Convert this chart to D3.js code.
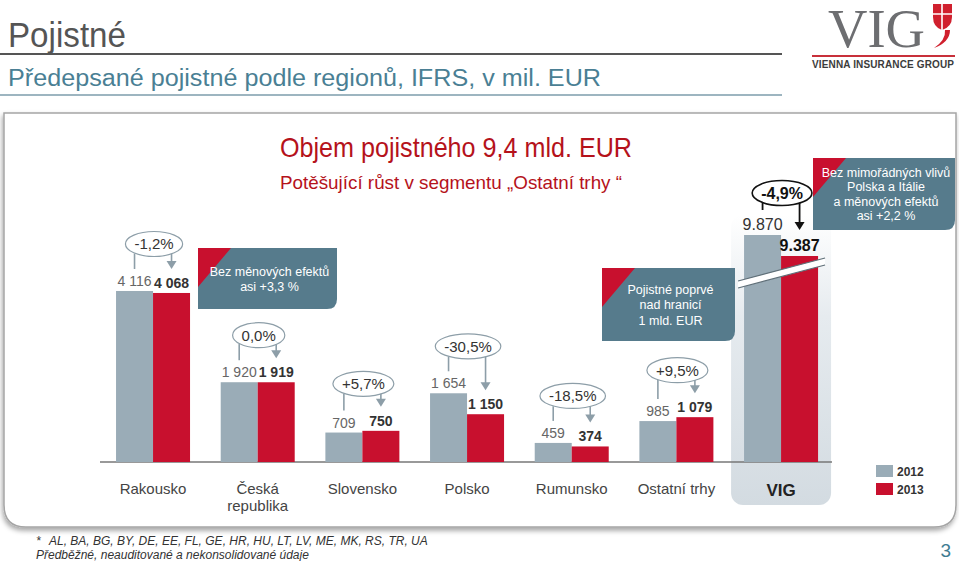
<!DOCTYPE html>
<html>
<head>
<meta charset="utf-8">
<script src="https://cdn.jsdelivr.net/npm/d3@7"></script>
<style>
  body { margin: 0; background: #fff; }
  svg { display: block; font-family: "Liberation Sans", Arial, sans-serif; }
</style>
</head>
<body>
<svg id="chart" width="959" height="561"></svg>
<script>
// chart data
var regions = ["Rakousko", "Česká republika", "Slovensko", "Polsko", "Rumunsko", "Ostatní trhy"];
var years = ["2012", "2013"];
var premium2012 = [4116, 1920, 709, 1654, 459, 985];
var premium2013 = [4068, 1919, 750, 1150, 374, 1079];
var changes = ["-1,2%", "0,0%", "+5,7%", "-30,5%", "-18,5%", "+9,5%"];
var vigTotal = [9870, 9387];
var vigChange = "-4,9%";

var grey = "#9aacb7", red = "#c8102e", teal = "#567b8c";

var svg = d3.select('#chart');

// ---- header ----
svg.append('text').attr('x', 8).attr('y', 47)
  .attr('textLength', 118).attr('lengthAdjust', 'spacingAndGlyphs')
  .style('font-size', '35px').style('fill', '#555').text('Pojistné');
svg.append('line').attr('x1', 0).attr('x2', 782).attr('y1', 54).attr('y2', 54)
  .style('stroke', '#555').style('stroke-width', 2);
svg.append('text').attr('x', 8).attr('y', 86)
  .attr('textLength', 593).attr('lengthAdjust', 'spacingAndGlyphs')
  .style('font-size', '23px').style('fill', '#4a7f94')
  .text('Předepsané pojistné podle regionů, IFRS, v mil. EUR');
svg.append('line').attr('x1', 0).attr('x2', 782).attr('y1', 95).attr('y2', 95)
  .style('stroke', '#7d9cab').style('stroke-width', 1.5);

// logo
var logo = svg.append('g');
logo.append('text').attr('x', 828).attr('y', 47)
  .attr('textLength', 97).attr('lengthAdjust', 'spacingAndGlyphs')
  .style('font-family', '"Liberation Serif", "DejaVu Serif", serif')
  .style('font-size', '54px').style('fill', '#6d6e71').text('VIG');
logo.append('path').attr('d', 'M933,4 H952 V17 Q952,27 942,30 Q933,27 933,17 Z').style('fill', '#d0202e');
logo.append('path').attr('d', 'M942,4 V30 M933,14 H952').style('stroke', '#fff').style('stroke-width', 1.6);
logo.append('path').attr('d', 'M945,30 Q946,40 934,48 Q950,42 950,30 Z').style('fill', '#d0202e');
logo.append('line').attr('x1', 812).attr('x2', 955).attr('y1', 56).attr('y2', 56)
  .style('stroke', '#c8303a').style('stroke-width', 2);
logo.append('text').attr('x', 883).attr('y', 68).attr('text-anchor', 'middle')
  .style('font-size', '10px').style('font-weight', 'bold').style('fill', '#3c3c3c')
  .attr('textLength', 142).text('VIENNA INSURANCE GROUP');

// ---- frame ----
var defs = svg.append('defs');
var shadow = defs.append('filter').attr('id', 'shadow').attr('x', '-5%').attr('y', '-5%').attr('width', '110%').attr('height', '115%');
shadow.append('feDropShadow').attr('dx', -1).attr('dy', 3).attr('stdDeviation', 2.5)
  .attr('flood-color', '#000').attr('flood-opacity', 0.35);
var grad = defs.append('linearGradient').attr('id', 'vigPanel').attr('x1', 0).attr('x2', 0).attr('y1', 0).attr('y2', 1);
grad.append('stop').attr('offset', '0%').attr('stop-color', '#fff');
grad.append('stop').attr('offset', '35%').attr('stop-color', '#e6ebef');
grad.append('stop').attr('offset', '100%').attr('stop-color', '#d3dbe1');

svg.append('path')
  .attr('d', 'M4,113 H956 V505 Q956,527 934,527 H26 Q4,527 4,505 Z')
  .style('fill', '#fff').style('stroke', '#a5a5a5').style('stroke-width', 1.5)
  .attr('filter', 'url(#shadow)');

svg.append('text').attr('x', 280).attr('y', 157)
  .attr('textLength', 352).attr('lengthAdjust', 'spacingAndGlyphs')
  .style('font-size', '28px').style('fill', '#b5121b').text('Objem pojistného 9,4 mld. EUR');
svg.append('text').attr('x', 280).attr('y', 189)
  .attr('textLength', 342).attr('lengthAdjust', 'spacingAndGlyphs')
  .style('font-size', '19px').style('fill', '#b5121b').text('Potěšující růst v segmentu „Ostatní trhy “');

// ---- scales ----
var groups = regions.concat(['VIG']);
var x = d3.scaleBand().domain(groups).range([100.7, 833.4]);
var xIn = d3.scaleBand().domain(years).range([-37, 37]);
var y = d3.scaleLinear().domain([0, 1000]).range([462, 420.45]);
var yVig = d3.scaleLinear().domain([4650, 9870]).range([462, 235]); // broken axis

var cx = function(g){ return x(g) + x.bandwidth() / 2; };

// VIG panel behind
svg.append('rect').attr('x', cx('VIG') - 50).attr('y', 215).attr('width', 100).attr('height', 290)
  .attr('rx', 12).style('fill', 'url(#vigPanel)');

var rows = regions.map(function(r, i){
  return { name: r, v: [premium2012[i], premium2013[i]], change: changes[i], scale: y, vig: false };
});
rows.push({ name: 'VIG', v: vigTotal, change: vigChange, scale: yVig, vig: true });

var fmt = function(v, vig){
  return vig ? d3.format(',')(v).replace(',', '.') : d3.format(',')(v).replace(',', ' ');
};

// baseline
svg.append('line').attr('x1', 100).attr('x2', 832).attr('y1', 462).attr('y2', 462)
  .style('stroke', '#777').style('stroke-width', 1.5);

var g = svg.selectAll('g.grp').data(rows).enter().append('g').attr('class', 'grp');

g.selectAll('rect.bar')
  .data(function(d){ return years.map(function(yr, k){ return { d: d, k: k, yr: yr, v: d.v[k] }; }); })
  .enter().append('rect').attr('class', 'bar')
  .attr('x', function(b){ return cx(b.d.name) + xIn(b.yr); })
  .attr('width', xIn.bandwidth())
  .attr('y', function(b){ return b.d.scale(b.v); })
  .attr('height', function(b){ return 462 - b.d.scale(b.v); })
  .style('fill', function(b){ return b.k === 0 ? grey : red; });

// value labels
g.selectAll('text.val')
  .data(function(d){ return years.map(function(yr, k){ return { d: d, k: k, yr: yr, v: d.v[k] }; }); })
  .enter().append('text').attr('class', 'val')
  .attr('x', function(b){ return cx(b.d.name) + xIn(b.yr) + xIn.bandwidth() / 2; })
  .attr('y', function(b){ return b.d.scale(b.v) - 5; })
  .attr('text-anchor', 'middle')
  .style('font-size', function(b){ return b.d.vig ? '16px' : '14px'; })
  .style('font-weight', function(b){ return b.k === 1 ? 'bold' : 'normal'; })
  .style('fill', function(b){ return b.d.vig ? (b.k === 1 ? '#111' : '#333') : (b.k === 1 ? '#333' : '#666'); })
  .text(function(b){ return fmt(b.v, b.d.vig); });

// broken-axis band across VIG bars
var bx0 = cx('VIG') - 43, bx1 = cx('VIG') + 44;
svg.append('path').attr('d', 'M' + bx0 + ',281 L' + bx1 + ',258 L' + bx1 + ',265 L' + bx0 + ',288 Z')
  .style('fill', '#fff');
svg.append('path').attr('d', 'M' + bx0 + ',281 L' + bx1 + ',258 M' + bx1 + ',265 L' + bx0 + ',288')
  .style('stroke', '#5f6f78').style('stroke-width', 1.2);

// change callouts
g.each(function(d){
  var sel = d3.select(this);
  var c = cx(d.name);
  var top0 = d.scale(d.v[0]), top1 = d.scale(d.v[1]);
  var cy = Math.min(top0, top1) - (d.vig ? 42 : 47);
  var col = d.vig ? '#111' : '#8d9ea8';
  var t = sel.append('text').attr('x', c + 1).attr('y', cy + 5.5).attr('text-anchor', 'middle')
    .style('font-size', d.vig ? '16px' : '15px').style('font-weight', d.vig ? 'bold' : 'normal')
    .style('fill', d.vig ? '#111' : '#333').text(d.change);
  var rx = t.node().getComputedTextLength() / 2 + 9, ry = 12.5;
  sel.insert('ellipse', 'text.val').attr('cx', c + 1).attr('cy', cy).attr('rx', rx).attr('ry', ry)
    .style('fill', '#fff').style('stroke', col).style('stroke-width', d.vig ? 1.6 : 1.2);
  t.raise();
  var lx = c - 18.5, ax = c + 18.5;
  var edge = cy + ry * Math.sqrt(Math.max(0, 1 - Math.pow(18.5 / rx, 2)));
  sel.append('line').attr('x1', lx).attr('x2', lx).attr('y1', edge).attr('y2', top0 - (d.vig ? 25 : 22))
    .style('stroke', col).style('stroke-width', d.vig ? 1.8 : 1.6);
  var tip = top1 - (d.vig ? 26 : 24);
  sel.append('line').attr('x1', ax).attr('x2', ax).attr('y1', edge).attr('y2', tip - 6)
    .style('stroke', col).style('stroke-width', d.vig ? 1.8 : 1.6);
  sel.append('path').attr('d', 'M' + (ax - 5) + ',' + (tip - 8) + ' L' + (ax + 5) + ',' + (tip - 8) + ' L' + ax + ',' + tip + ' Z')
    .style('fill', col);
});

// category labels
g.each(function(d){
  var sel = d3.select(this);
  var lines = d.name === 'Česká republika' ? ['Česká', 'republika'] : [d.name];
  lines.forEach(function(l, i){
    sel.append('text').attr('x', cx(d.name)).attr('y', d.vig ? 496 : 494 + i * 17)
      .attr('text-anchor', 'middle')
      .style('font-size', d.vig ? '17px' : '15px').style('font-weight', d.vig ? 'bold' : 'normal')
      .style('fill', d.vig ? '#222' : '#444').text(l);
  });
});

// note boxes
function note(x0, y0, w, h, lines, lh){
  var b = svg.append('g');
  b.append('path').attr('d', 'M' + x0 + ',' + y0 + ' H' + (x0 + w) + ' V' + (y0 + h - 10) +
      ' Q' + (x0 + w) + ',' + (y0 + h) + ' ' + (x0 + w - 10) + ',' + (y0 + h) + ' H' + x0 + ' Z')
    .style('fill', teal);
  b.append('path').attr('d', 'M' + x0 + ',' + y0 + ' H' + (x0 + 33) + ' L' + x0 + ',' + (y0 + 39) + ' Z')
    .style('fill', red);
  var mid = x0 + w / 2 + 2;
  var start = y0 + h / 2 - (lines.length - 1) * lh / 2 + 4.5;
  lines.forEach(function(l, i){
    b.append('text').attr('x', mid).attr('y', start + i * lh).attr('text-anchor', 'middle')
      .style('font-size', '12.5px').style('fill', '#fff').text(l);
  });
}
note(198, 248, 139, 61, ['Bez měnových efektů', 'asi +3,3 %'], 15);
note(602, 268, 133, 73, ['Pojistné poprvé', 'nad hranicí', '1 mld. EUR'], 15.5);
note(813, 158, 142, 72, ['Bez mimořádných vlivů', 'Polska a Itálie', 'a měnových efektů', 'asi +2,2 %'], 14.5);

// legend
var leg = svg.selectAll('g.leg').data(years).enter().append('g').attr('class', 'leg')
  .attr('transform', function(d, i){ return 'translate(876,' + (465 + i * 18) + ')'; });
leg.append('rect').attr('width', 17).attr('height', 12)
  .style('fill', function(d, i){ return i === 0 ? grey : red; });
leg.append('text').attr('x', 21).attr('y', 10.5).style('font-size', '12px').style('font-weight', 'bold')
  .style('fill', '#333').text(function(d){ return d; });

// footnote
svg.append('text').attr('x', 36).attr('y', 545).style('font-size', '12px').style('font-style', 'italic')
  .style('fill', '#333').text('*');
svg.append('text').attr('x', 49).attr('y', 545).style('font-size', '12px').style('font-style', 'italic')
  .style('fill', '#333').text('AL, BA, BG, BY, DE, EE, FL, GE, HR, HU, LT, LV, ME, MK, RS, TR, UA');
svg.append('text').attr('x', 36).attr('y', 559).style('font-size', '12px').style('font-style', 'italic')
  .style('fill', '#333').text('Předběžné, neauditované a nekonsolidované údaje');
svg.append('text').attr('x', 951).attr('y', 557).attr('text-anchor', 'end')
  .style('font-size', '19px').style('fill', '#3f7c92').text('3');
</script>
</body>
</html>
